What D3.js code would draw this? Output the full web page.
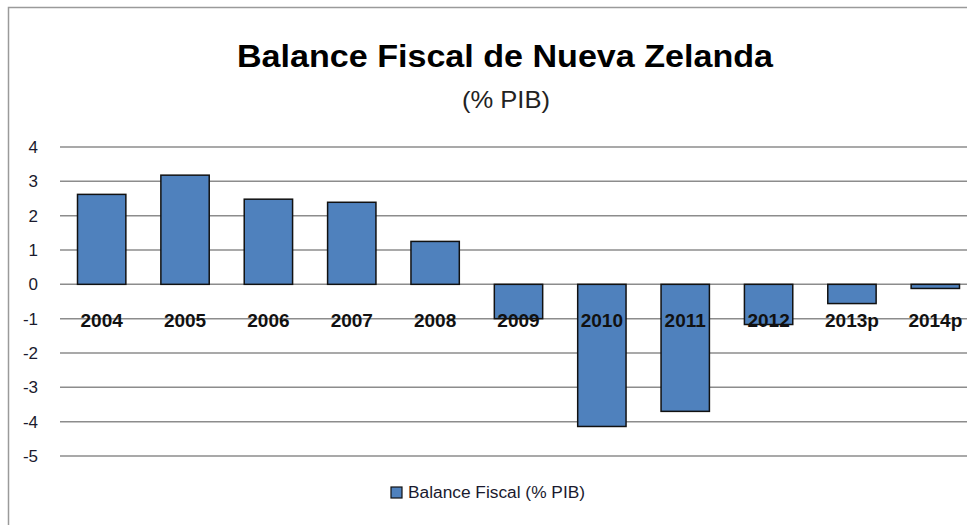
<!DOCTYPE html>
<html>
<head>
<meta charset="utf-8">
<script src="https://cdn.jsdelivr.net/npm/d3@7"></script>
<style>
	body { margin: 0; background: #fff; }
	svg { display: block; font-family: "Liberation Sans", Arial, sans-serif; }
</style>
</head>
<body>
<div id="chart"></div>
<script>
//data
var years = ["2004", "2005", "2006", "2007", "2008", "2009", "2010", "2011", "2012", "2013p", "2014p"],
	balance = [2.62, 3.18, 2.48, 2.39, 1.25, -1.0, -4.14, -3.7, -1.17, -0.56, -0.12],
	yTicks = [4, 3, 2, 1, 0, -1, -2, -3, -4, -5];

var width = 967,
	height = 525;

var svg = d3.select("#chart")
	.append("svg")
		.attr("width", width)
		.attr("height", height);

//frame of the chart area
svg.append("path")
	.attr("d", "M8.5,525 V7.5 H967")
	.attr("fill", "none")
	.attr("stroke", "#9a9a9a")
	.attr("stroke-width", 1.5);

//scales
var x = d3.scaleBand()
	.domain(years)
	.range([60, 977])
	.paddingInner(0.42)
	.paddingOuter(0.21);

var y = d3.scaleLinear()
	.domain([-5, 4])
	.range([456, 147]);

//gridlines
svg.append("g")
	.selectAll("line")
	.data(yTicks)
	.enter()
	.append("line")
		.attr("x1", 60)
		.attr("x2", width)
		.attr("y1", function(d) { return y(d); })
		.attr("y2", function(d) { return y(d); })
		.attr("stroke", "#8c8c8c")
		.attr("stroke-width", 1.5);

//y axis labels (plain hyphen for negatives, like the original)
var yAxis = svg.append("g")
	.attr("transform", "translate(38,0)")
	.call(d3.axisLeft(y).tickValues(yTicks).tickSize(0).tickPadding(0)
		.tickFormat(function(d) { return String(d); }));
yAxis.select(".domain").remove();
yAxis.selectAll("text")
	.attr("font-family", "Liberation Sans, Arial, sans-serif")
	.attr("font-size", 17)
	.attr("fill", "#1a1a2e");

//bars
svg.append("g")
	.selectAll("rect")
	.data(balance)
	.enter()
	.append("rect")
		.attr("x", function(d, i) { return x(years[i]); })
		.attr("y", function(d) { return y(Math.max(0, d)); })
		.attr("width", x.bandwidth())
		.attr("height", function(d) { return Math.abs(y(d) - y(0)); })
		.attr("fill", "#4f81bd")
		.attr("stroke", "#111")
		.attr("stroke-width", 1.5);

//category labels (drawn over the bars, as in the original)
svg.append("g")
	.selectAll("text")
	.data(years)
	.enter()
	.append("text")
		.attr("x", function(d) { return x(d) + x.bandwidth() / 2; })
		.attr("y", 327)
		.attr("text-anchor", "middle")
		.attr("font-size", 19)
		.attr("font-weight", "bold")
		.attr("fill", "#111")
		.text(function(d) { return d; });

//title
svg.append("text")
	.attr("x", 505)
	.attr("y", 67)
	.attr("text-anchor", "middle")
	.attr("font-size", 31)
	.attr("font-weight", "bold")
	.attr("textLength", 536)
	.attr("lengthAdjust", "spacingAndGlyphs")
	.text("Balance Fiscal de Nueva Zelanda");

svg.append("text")
	.attr("x", 506)
	.attr("y", 108)
	.attr("text-anchor", "middle")
	.attr("font-size", 24)
	.attr("textLength", 88)
	.attr("lengthAdjust", "spacingAndGlyphs")
	.attr("fill", "#222")
	.text("(% PIB)");

//legend
var legend = svg.append("g")
	.attr("transform", "translate(391,487)");
legend.append("rect")
	.attr("width", 11)
	.attr("height", 11)
	.attr("fill", "#4f81bd")
	.attr("stroke", "#111")
	.attr("stroke-width", 1.2);
legend.append("text")
	.attr("x", 17)
	.attr("y", 11)
	.attr("font-size", 16)
	.attr("textLength", 177)
	.attr("lengthAdjust", "spacingAndGlyphs")
	.attr("fill", "#1a1a2e")
	.text("Balance Fiscal (% PIB)");
</script>
</body>
</html>
